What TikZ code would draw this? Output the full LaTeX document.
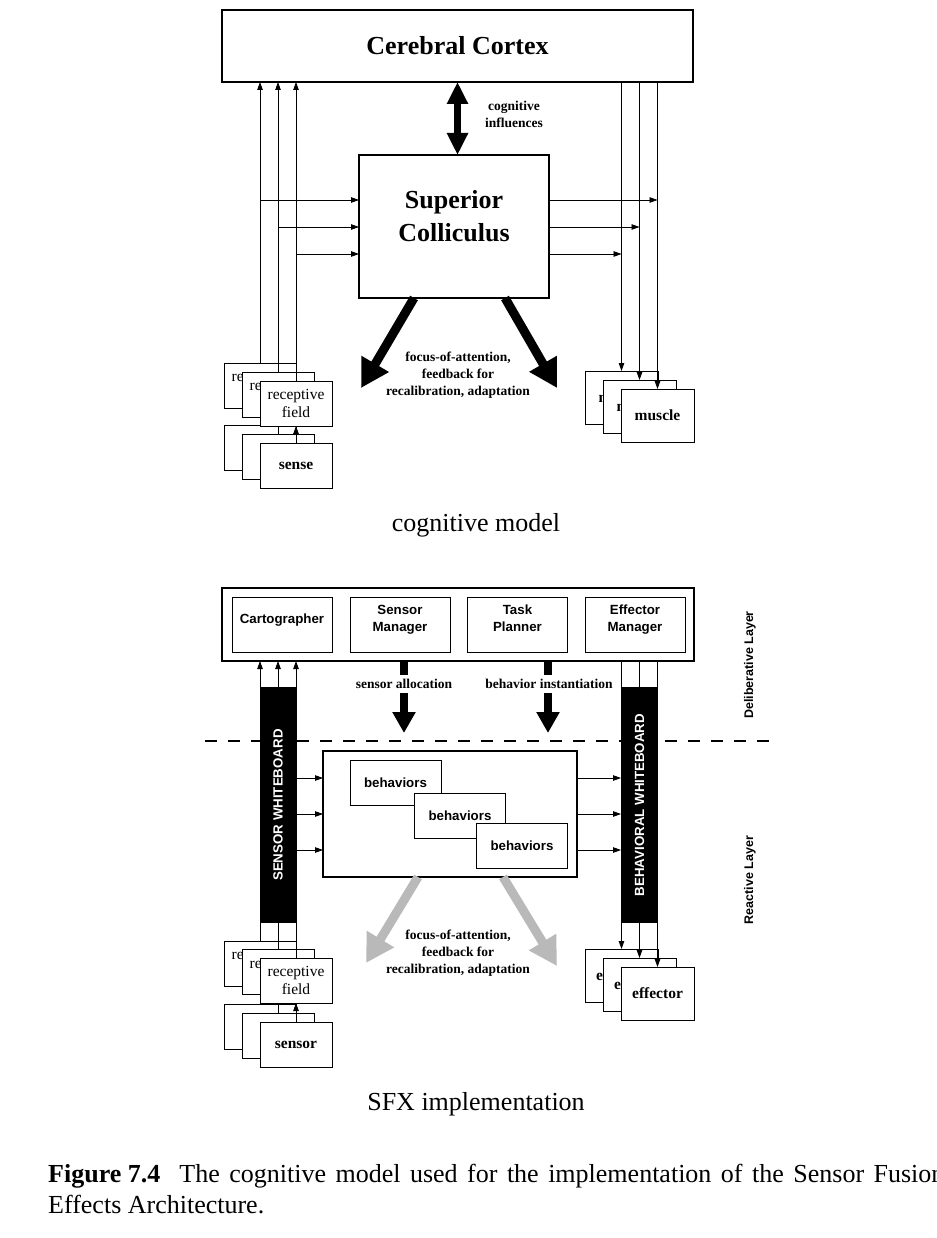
\documentclass[tikz,border=0pt]{standalone}
\usepackage{fontspec}
\setmainfont{Liberation Serif}
\setsansfont{Liberation Sans}
\usetikzlibrary{arrows.meta}

\newcommand\headfont{\fontsize{26}{33}\selectfont\bfseries}
\newcommand\notefont{\fontsize{13.5}{17}\selectfont\bfseries}
\newcommand\cellfont{\fontsize{15.5}{18}\selectfont}
\newcommand\modfont{\fontsize{13.3}{17}\selectfont\sffamily\bfseries}
\newcommand\subfont{\fontsize{26}{30}\selectfont}
\newcommand\rfpeek{\rlap{re}\phantom{receptive}\\\phantom{field}}

\tikzset{
  frame/.style={draw, line width=2pt, fill=white, inner sep=0pt, outer sep=0pt, align=center},
  cell/.style={draw, line width=0.9pt, fill=white, inner sep=0pt, outer sep=0pt, align=center,
    minimum width=72, minimum height=45, font=\cellfont},
  outcell/.style={cell, minimum width=73, minimum height=53, font=\cellfont\bfseries},
  module/.style={cell, minimum width=100, minimum height=55, font=\modfont},
  behav/.style={cell, minimum width=91, minimum height=45, font=\modfont},
  board/.style={fill=black, inner sep=0pt, outer sep=0pt, minimum width=37, minimum height=236,
    text=white, font=\modfont},
  sig/.style={line width=0.8pt, -{Triangle[length=8pt,width=5.5pt]}},
  wire/.style={line width=0.8pt},
  fat/.style={line width=7pt, {Triangle[length=22pt,width=20pt]}-{Triangle[length=22pt,width=20pt]}},
  push/.style={line width=9pt, -{Triangle[length=28pt,width=30pt]}},
  faint/.style={push, draw=gray!55, fill=gray!55},
  order/.style={line width=8pt, -{Triangle[length=21pt,width=22pt]}},
  note/.style={font=\notefont, align=center, inner sep=0pt},
  layer/.style={font=\fontsize{12.5}{15}\selectfont\sffamily\bfseries, rotate=90, inner sep=0pt},
  sep/.style={line width=2pt, dash pattern=on 12pt off 11pt}
}

\begin{document}
\begin{tikzpicture}[x=1pt,y=-1pt]
\useasboundingbox[fill=white] (0,0) rectangle (936,1238);

\node[frame, minimum width=471, minimum height=72, font=\headfont] (cortex) at (457.5,46) {Cerebral Cortex};
\node[frame, minimum width=190, minimum height=143, font=\headfont] (sc) at (454,226.5) {Superior\\Colliculus\\[-12pt]\mbox{}};
\draw[fat] (cortex.south) -- (cortex.south |- sc.north);
\node[note] (infl) at (514,114) {cognitive\\influences};

\foreach \i/\t/\s in {0/\rfpeek/{},1/\rfpeek/{},2/{receptive\\field}/sense}{
  \node[cell] (rf\i) at ({260+18*\i},{385.5+9*\i}) {\t};
  \node[cell, font=\cellfont\bfseries] (se\i) at ({260+18*\i},{447.5+9.25*\i}) {\s};
  \draw[sig] (se\i) -- (rf\i);
}
\foreach \i/\t in {0/{\rlap{m}\phantom{muscle}},1/{\rlap{m}\phantom{muscle}},2/muscle}{
  \node[outcell] (mu\i) at ({621.5+18*\i},{397.5+9*\i}) {\t};
  \draw[sig] (rf\i.north) -- (rf\i.north |- cortex.south);
  \draw[sig] (mu\i.north |- cortex.south) -- (mu\i.north);
}
\foreach \i/\j/\y in {0/2/200,1/1/227,2/0/254}{
  \coordinate (h\i) at (0,\y);
  \draw[sig] (rf\i.north |- h\i) -- (sc.west |- h\i);
  \draw[sig] (sc.east |- h\i) -- (mu\j.north |- h\i);
}
\coordinate (fa) at (361,388);
\coordinate (fb) at (557,388);
\draw[push] ([xshift=55]sc.south west) -- (fa);
\draw[push] ([xshift=146]sc.south west) -- (fb);
\node[note] (foc) at (458,375) {focus-of-attention,\\feedback for\\recalibration, adaptation};
\node[font=\subfont] (model) at (476,525) {cognitive model};

\draw[sep] (205,741) -- (776,741);
\node[frame, minimum width=472, minimum height=73] (delib) at (458,624.5) {};
\foreach \n/\x/\t in {cart/282/Cartographer,smgr/400/Sensor\\Manager,plan/517.5/Task\\Planner,emgr/635/Effector\\Manager}
  \node[module] (\n) at (\x,624.5) {\t\\[-5pt]\mbox{}};

\coordinate (sa) at (404,733);
\coordinate (bi) at (548,733);
\draw[order] (delib.south -| sa) -- (sa);
\draw[order] (delib.south -| bi) -- (bi);
\node[note, fill=white, inner sep=4pt] (salloc) at (404,684) {sensor allocation};
\node[note, fill=white, inner sep=4pt] (binst) at (549,684) {behavior instantiation};

\node[board] (sbw) at (278,805) {\rotatebox{90}{SENSOR WHITEBOARD}};
\node[board] (bbw) at (639.5,805) {\rotatebox{90}{BEHAVIORAL WHITEBOARD}};

\node[frame, minimum width=254, minimum height=126] (beh) at (450,814) {};
\node[behav] (b1) at (395.5,782.5) {behaviors};
\node[behav] (b2) at (460,815.5) {behaviors};
\node[behav] (b3) at (522,845.5) {behaviors};
\foreach \i/\y in {0/778,1/814,2/850}{
  \coordinate (r\i) at (0,\y);
  \draw[sig] (sbw.east |- r\i) -- (beh.west |- r\i);
  \draw[sig] (beh.east |- r\i) -- (bbw.west |- r\i);
}

\foreach \i/\t/\s in {0/\rfpeek/{},1/\rfpeek/{},2/{receptive\\field}/sensor}{
  \node[cell] (rfb\i) at ({260+18*\i},{963.5+8.5*\i}) {\t};
  \node[cell, font=\cellfont\bfseries] (sn\i) at ({260+18*\i},{1026.5+9*\i}) {\s};
  \draw[sig] (sn\i) -- (rfb\i);
}
\foreach \i/\t in {0/{\rlap{e}\phantom{effector}},1/{\rlap{e}\phantom{effector}},2/effector}{
  \node[outcell] (ef\i) at ({621.5+18*\i},{975.5+9*\i}) {\t};
  \draw[sig] (rfb\i.north |- sbw.north) -- (rfb\i.north |- delib.south);
  \draw[wire] (rfb\i.north |- sbw.south) -- (rfb\i.north);
  \draw[wire] (ef\i.north |- delib.south) -- (ef\i.north |- bbw.north);
  \draw[sig] (ef\i.north |- bbw.south) -- (ef\i.north);
}
\coordinate (ga) at (366,963);
\coordinate (gb) at (557,966);
\draw[faint] ([xshift=95]beh.south west) -- (ga);
\draw[faint] ([xshift=180]beh.south west) -- (gb);
\node[note] (foc2) at (458,953) {focus-of-attention,\\feedback for\\recalibration, adaptation};

\node[layer] (dlay) at (750,665) {Deliberative Layer};
\node[layer] (rlay) at (750,880) {Reactive Layer};
\node[font=\subfont] (impl) at (476,1104) {SFX implementation};

\node[anchor=base west, inner sep=0pt, font=\subfont] (cap1) at (48,1182)
  {\textbf{Figure 7.4}\hspace{19pt}\makebox[765pt][s]{The cognitive model used for the implementation of the Sensor Fusion}};
\node[anchor=base west, inner sep=0pt, font=\subfont] (cap2) at (48,1213) {Effects Architecture.};
\end{tikzpicture}
\end{document}
